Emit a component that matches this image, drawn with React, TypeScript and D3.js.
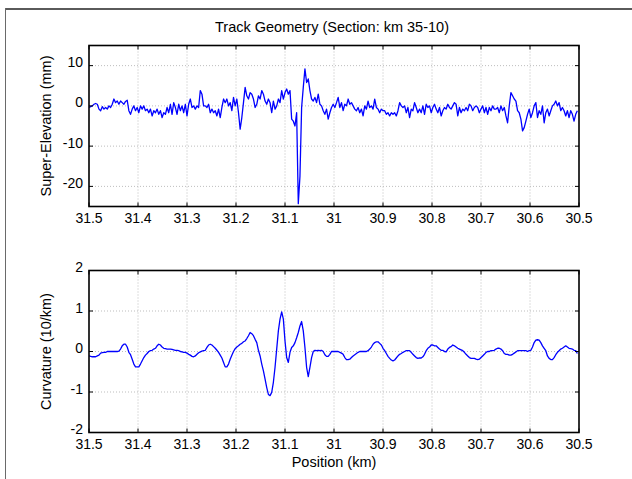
import React from "react";
import * as d3 from "d3";

// Chainage axis (km), running from 31.5 down to 30.5
const kmTicks = [31.5, 31.4, 31.3, 31.2, 31.1, 31.0, 30.9, 30.8, 30.7, 30.6, 30.5];
const kmTickLabels = ["31.5", "31.4", "31.3", "31.2", "31.1", "31", "30.9", "30.8", "30.7", "30.6", "30.5"];
const elevTicks = [10, 0, -10, -20];
const elevTickLabels = ["10", "0", "-10", "-20"];
const curvTicks = [2, 1, 0, -1, -2];
const curvTickLabels = ["2", "1", "0", "-1", "-2"];

// Survey sampling: first chainage and spacing between samples (km)
const startKm = 31.5;
const sampleStep = 0.00339;

// Super-elevation (mm) per sample
const superElevation = [
  -0.4, -0.2, 0.0, 0.4, 0.6, 0.4, -0.8, -1.2, -0.2, -0.8, -0.4, -0.8, 0.0, -0.4, 0.4, 1.7,
  0.8, 1.2, 0.4, 1.2, 0.8, 0.4, 1.1, 1.4, -1.2, -2.1, -0.8, 0.0, -1.2, -0.4, -1.7, 0.0,
  -0.8, 0.0, -1.2, -0.8, -1.7, -0.8, -2.5, -1.2, -1.7, -0.8, -2.1, -1.2, -2.9, -1.7, -2.1, -0.4,
  -1.7, 0.4, -2.1, 0.8, -0.4, -2.1, 0.4, -1.2, 0.0, -1.7, 0.4, -2.5, 0.4, 1.7, -0.4, 0.0,
  -0.8, 0.0, -0.4, 3.8, 2.9, 0.0, 0.0, -0.4, 0.4, -1.7, -0.8, -1.7, -1.2, -2.5, -0.8, -2.9,
  -0.4, 1.7, 0.8, 1.7, 0.0, 0.8, -1.2, 2.1, 0.0, 1.7, -1.7, -5.8, -2.9, 0.8, 4.6, 2.5,
  1.7, 3.3, 2.9, 1.7, -0.4, 0.4, 2.5, 1.7,
  3.8, 2.9, 1.2, 0.4, 1.7, 0.8, -1.7, 1.2, -0.8, 0.0, 1.7, 0.8, 3.8, 1.7, 3.3, 4.2,
  2.9, 3.8, -3.3, -3.8, -5.0, -1.7, -24.3, -17.5, -0.4, 4.6, 9.2, 5.8, 6.7, 3.8, 1.7, 1.2,
  2.1, 0.8, 2.9, 0.4, 0.0, -1.2, -2.1, -0.8, -3.3, -1.7, -0.4, 0.4, -0.4, 0.8, 2.1, -0.4,
  0.8, -1.2, 0.4, 0.0, 1.7, 0.4, 0.8, 0.0, -0.8, -1.2, -0.4, -1.7, -0.8, -2.5, 0.0, -0.8,
  1.2, -0.4, 0.0, -0.8, 1.7, -0.4, -0.8, -1.7, -0.8, -1.2, -1.2, -2.1, -1.7, -2.5, -1.7, -2.1,
  -1.7, -2.5, -1.2, 0.8, 0.0, -0.4, 0.0, -1.7, -0.4, -2.9, -0.8, -1.2, 0.8, -0.4, -1.7,
  -0.8, -1.7, 0.0, -2.1, 0.4, -0.4, 0.0, -1.7, -0.4, 0.4, -0.8, -1.7, -0.4, -2.5, -1.2, -0.4,
  -0.8, 0.4, -0.4, -0.8, 0.0, 0.8, 0.4, -2.5, -0.4, -1.7, -0.8, -1.2, -0.4, -1.2, 0.4, 0.0,
  -1.2, -0.4, 0.0, -0.4, -1.7, -0.8, 0.0, -1.7, -0.4, -2.1, -0.4, -1.2, 0.0, -0.8, -0.8, -0.4,
  -1.7, 0.0, -1.2, -0.4, -2.5, -4.2, 0.0, 3.3, 2.5, 1.7, 1.2, -1.2, -1.7, -3.3, -6.2, -5.4,
  -3.8, -2.1, -0.8, -2.9, -1.7, 0.0, 0.8, -2.9, -1.2, -2.1, 0.0, -4.2, -1.7, -0.8, -2.5, -1.2,
  0.0, 0.4, 1.2, 0.0, 0.8, -1.2, -0.4, -1.2, -2.5, -1.2, -2.9, -1.2, -2.1, -3.8, -2.1, -1.2,
];

// Curvature (10/km) per sample
const curvature = [
  -0.11, -0.12, -0.13, -0.13, -0.13, -0.11, -0.09, -0.04, -0.03, -0.02, -0.02, 0.0, 0.0, 0.0, 0.0, 0.0,
  0.0, 0.0, 0.01, 0.06, 0.14, 0.18, 0.18, 0.11, -0.02, -0.08, -0.19, -0.31, -0.38, -0.38, -0.38, -0.31,
  -0.23, -0.15, -0.09, -0.05, 0.0, 0.02, 0.03, 0.06, 0.08, 0.14, 0.18, 0.16, 0.11, 0.08, 0.07, 0.06,
  0.06, 0.06, 0.05, 0.04, 0.03, 0.03, 0.02, 0.0, -0.01, -0.02, -0.02, -0.04, -0.07, -0.09, -0.12, -0.13,
  -0.11, -0.07, -0.03, -0.01, 0.01, 0.02, 0.03, 0.10, 0.16, 0.18, 0.16, 0.12, 0.08, 0.03, -0.02, -0.09,
  -0.16, -0.27, -0.38, -0.38, -0.31, -0.19, -0.09, 0.0, 0.07, 0.11, 0.14, 0.18, 0.20, 0.24, 0.26, 0.32,
  0.39, 0.47, 0.44, 0.39, 0.30, 0.22, 0.03, -0.11,
  -0.31, -0.48, -0.68, -0.89, -1.06, -1.09, -1.01, -0.76, -0.39, 0.06, 0.51, 0.80, 0.98, 0.80, 0.26, -0.15,
  -0.27, -0.02, 0.10, 0.14, 0.22, 0.34, 0.47, 0.63, 0.74, 0.51, 0.10, -0.39, -0.62, -0.39, -0.15, 0.0,
  0.03, 0.02, 0.03, 0.02, 0.03, 0.0, -0.08, -0.12, -0.12, -0.07, 0.0, 0.0, 0.0, 0.0, 0.0, -0.02,
  -0.04, -0.07, -0.15, -0.20, -0.20, -0.19, -0.15, -0.11, -0.08, -0.05, -0.02, 0.0, 0.0, 0.0, 0.0, 0.0,
  0.02, 0.06, 0.11, 0.18, 0.22, 0.24, 0.24, 0.20, 0.16, 0.08, 0.02, -0.05, -0.12, -0.17, -0.21, -0.23,
  -0.21, -0.16, -0.11, -0.07, -0.05, -0.02, 0.0, 0.02, 0.02, 0.02, -0.02, -0.07, -0.11, -0.15, -0.17,
  -0.16, -0.16, -0.13, -0.07, 0.02, 0.08, 0.11, 0.16, 0.16, 0.14, 0.14, 0.10, 0.06, 0.03, 0.03, 0.0,
  -0.01, 0.06, 0.10, 0.12, 0.16, 0.14, 0.11, 0.08, 0.06, 0.04, 0.02, -0.02, -0.07, -0.11, -0.15, -0.17,
  -0.17, -0.17, -0.19, -0.20, -0.19, -0.15, -0.11, -0.07, -0.02, 0.0, 0.0, 0.02, 0.02, 0.03, 0.06, 0.08,
  0.08, 0.06, 0.02, -0.05, -0.07, -0.07, -0.09, -0.09, -0.07, -0.04, -0.01, 0.02, 0.02, 0.02, 0.02, 0.02,
  0.02, 0.0, 0.02, 0.03, 0.11, 0.22, 0.28, 0.29, 0.28, 0.22, 0.14, 0.08, 0.02, -0.11, -0.17, -0.20,
  -0.20, -0.15, -0.08, -0.02, 0.02, 0.06, 0.08, 0.11, 0.14, 0.11, 0.08, 0.07, 0.06, 0.03, 0.02, -0.05,
];

const FONT = "'Liberation Sans', Arial, Helvetica, sans-serif";
const LINE_COLOR = "#0000ff";
const TICK_FONT = 14;
const LABEL_FONT = 14.5;

type PanelProps = {
  top: number;
  bottom: number;
  left: number;
  right: number;
  domain: [number, number];
  ticks: number[];
  tickLabels: string[];
  values: number[];
  ylabel: string;
  id: string;
};

function Panel({ top, bottom, left, right, domain, ticks, tickLabels, values, ylabel, id }: PanelProps) {
  const x = d3.scaleLinear().domain([31.5, 30.5]).range([left, right]);
  const y = d3.scaleLinear().domain(domain).range([bottom, top]);
  const points: [number, number][] = values.map((v, i) => [startKm - i * sampleStep, v]);
  const line = d3
    .line<[number, number]>()
    .x((d) => x(d[0]))
    .y((d) => y(d[1]));
  const tickLen = 4;
  const gridColor = "#bdbdbd";
  return (
    <g>
      <defs>
        <clipPath id={id}>
          <rect x={left} y={top} width={right - left} height={bottom - top} />
        </clipPath>
      </defs>
      {/* dotted grid */}
      {kmTicks.slice(1, -1).map((t) => (
        <line key={"gx" + t} x1={x(t)} x2={x(t)} y1={top} y2={bottom} stroke={gridColor} strokeWidth={1} strokeDasharray="1,2" />
      ))}
      {ticks
        .filter((t) => t > domain[0] && t < domain[1])
        .map((t) => (
          <line key={"gy" + t} x1={left} x2={right} y1={y(t)} y2={y(t)} stroke={gridColor} strokeWidth={1} strokeDasharray="1,2" />
        ))}
      {/* data trace */}
      <path d={line(points) || ""} fill="none" stroke={LINE_COLOR} strokeWidth={1.3} strokeLinejoin="round" clipPath={`url(#${id})`} />
      {/* box frame */}
      <rect x={left} y={top} width={right - left} height={bottom - top} fill="none" stroke="#000" strokeWidth={1.6} />
      {/* inward ticks */}
      {kmTicks.map((t) => (
        <g key={"tx" + t}>
          <line x1={x(t)} x2={x(t)} y1={bottom} y2={bottom - tickLen} stroke="#000" strokeWidth={1} />
          <line x1={x(t)} x2={x(t)} y1={top} y2={top + tickLen} stroke="#000" strokeWidth={1} />
        </g>
      ))}
      {ticks.map((t) => (
        <g key={"ty" + t}>
          <line x1={left} x2={left + tickLen} y1={y(t)} y2={y(t)} stroke="#000" strokeWidth={1} />
          <line x1={right} x2={right - tickLen} y1={y(t)} y2={y(t)} stroke="#000" strokeWidth={1} />
        </g>
      ))}
      {/* tick labels */}
      {kmTicks.map((t, i) => (
        <text key={"lx" + t} x={x(t)} y={bottom + 16.5} textAnchor="middle" fontSize={TICK_FONT} fontFamily={FONT} fill="#000">
          {kmTickLabels[i]}
        </text>
      ))}
      {ticks.map((t, i) => (
        <text key={"ly" + t} x={left - 6} y={y(t) + 1.5} textAnchor="end" fontSize={TICK_FONT} fontFamily={FONT} fill="#000">
          {tickLabels[i]}
        </text>
      ))}
      <text
        transform={`translate(${left - 38},${(top + bottom) / 2}) rotate(-90)`}
        textAnchor="middle"
        fontSize={LABEL_FONT}
        fontFamily={FONT}
        fill="#000"
      >
        {ylabel}
      </text>
    </g>
  );
}

export default function App() {
  const W = 632;
  const H = 479;
  const left = 89;
  const right = 579;
  return (
    <div style={{ position: "absolute", left: 0, top: 0 }}>
      <svg width={W} height={H} style={{ display: "block", background: "#fff" }}>
        <rect x={0} y={0} width={W} height={H} fill="#fff" />
        {/* figure border */}
        <rect x={5} y={8} width={W - 5} height={2} fill="#5a5a5a" />
        <rect x={5} y={8} width={1} height={H - 8} fill="#6a6a6a" />
        <text x={(left + right) / 2 - 2} y={32} textAnchor="middle" fontSize={LABEL_FONT} fontFamily={FONT} fill="#000">
          Track Geometry (Section: km 35-10)
        </text>
        <Panel
          id="clip-elev"
          top={45.5}
          bottom={206.5}
          left={left}
          right={right}
          domain={[-25, 15]}
          ticks={elevTicks}
          tickLabels={elevTickLabels}
          values={superElevation}
          ylabel="Super-Elevation (mm)"
        />
        <Panel
          id="clip-curv"
          top={270.5}
          bottom={432.5}
          left={left}
          right={right}
          domain={[-2, 2]}
          ticks={curvTicks}
          tickLabels={curvTickLabels}
          values={curvature}
          ylabel="Curvature (10/km)"
        />
        <text x={(left + right) / 2} y={467} textAnchor="middle" fontSize={LABEL_FONT} fontFamily={FONT} fill="#000">
          Position (km)
        </text>
      </svg>
    </div>
  );
}
